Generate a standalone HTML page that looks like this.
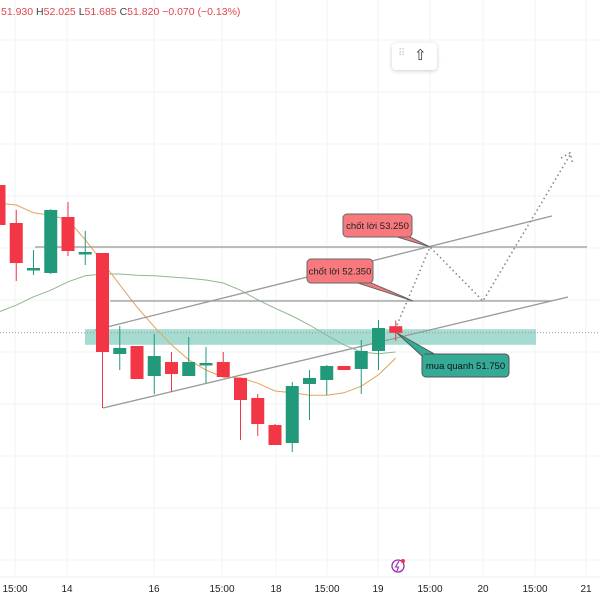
<!DOCTYPE html>
<html><head><meta charset="utf-8"><style>
body{margin:0;background:#fff;font-family:"Liberation Sans",sans-serif}
#wrap{position:relative;width:600px;height:600px;overflow:hidden}
</style></head><body>
<div id="wrap">
<svg id="svg" width="600" height="600"></svg>
<div style="position:absolute;left:1px;top:6px;font-size:10.5px;color:#e0464f;white-space:nowrap">51.930 <b style="color:#444;font-weight:normal">H</b>52.025 <b style="color:#444;font-weight:normal">L</b>51.685 <b style="color:#444;font-weight:normal">C</b>51.820 −0.070 (−0.13%)</div>
<div style="position:absolute;left:392px;top:43px;width:45px;height:27px;background:#fff;border-radius:4px;box-shadow:0 1px 4px rgba(0,0,0,0.2);font-size:15px;color:#333"><span style="position:absolute;left:6px;top:5px;color:#ccc;font-size:10px">⠿</span><span style="position:absolute;left:22px;top:3px">⇧</span></div>
</div>
<script>
const tickLabels=["15:00","14","16","15:00","18","15:00","19","15:00","20","15:00","21"];
const tickX=[15,67,154,222,276,327,378,430,483,535,586];
const opens=[54.283,53.65,52.88,52.817,53.75,53.13,53.15,51.467,51.6,51.1,51.333,51.1,51.3,51.333,51.067,50.733,50.283,49.983,50.967,51.033,51.267,51.217,51.517,51.93];
const highs=[54.4,53.87,53.2,53.88,54.0,53.52,53.15,51.933,51.6,51.8,51.5,51.75,51.583,51.5,51.067,50.8,50.3,51.0,51.2,51.283,51.267,51.7,52.033,52.025];
const lows=[53.6,52.683,52.783,52.8,53.1,52.95,50.567,51.2,51.05,50.8,50.833,51.1,50.983,51.1,50.033,50.1,49.95,49.833,50.367,50.783,51.2,50.8,51.2,51.685];
const closes=[53.617,52.983,52.9,53.867,53.183,53.167,51.5,51.567,51.05,51.433,51.133,51.333,51.317,51.083,50.7,50.3,49.95,50.933,51.067,51.267,51.2,51.517,51.9,51.82];
const maFast=[53.98,53.95,53.82,53.78,53.70,53.37,53.00,52.62,52.25,51.92,51.62,51.37,51.20,51.08,51.07,50.98,50.85,50.82,50.78,50.78,50.82,50.93,51.12,51.40];
const maSlow=[52.17,52.28,52.42,52.53,52.67,52.77,52.80,52.80,52.78,52.77,52.75,52.73,52.70,52.65,52.53,52.37,52.23,52.10,51.95,51.78,51.62,51.50,51.47,51.50];
const target1=53.25, target2=52.35, buyLevel=51.75, lastPrice=51.82;
const zoneTop=51.88, zoneBot=51.62;

const S='http://www.w3.org/2000/svg';
const svg=document.getElementById('svg');
const y=p=>301-(p-52.35)*60;
const x=i=>-1+17.25*i;
function el(t,a,parent){const e=document.createElementNS(S,t);for(const k in a)e.setAttribute(k,a[k]);(parent||svg).appendChild(e);return e;}
// grid
for(let gx of tickX){const g=el('line',{x1:gx,x2:gx,y1:0,y2:575,stroke:'#f2f3f5'});

}
for(let gy=40;gy<575;gy+=52){const g=el('line',{x1:0,x2:600,y1:gy,y2:gy,stroke:'#f2f3f5'});

}
// zone
let z=el('rect',{x:85,y:y(zoneTop),width:451,height:y(zoneBot)-y(zoneTop),fill:'#a5dbd0'});


let lp=el('line',{x1:0,x2:600,y1:y(lastPrice),y2:y(lastPrice),stroke:'#999','stroke-dasharray':'1 2'});


// MAs
function ma(arr,col,name){const p=el('polyline',{points:arr.map((v,i)=>x(i)+','+y(v)).join(' '),fill:'none',stroke:col,'stroke-width':1});

}
ma(maSlow,'#8fb88f','ma-slow');
ma(maFast,'#e3a35a','ma-fast');
// horizontal lines and trendlines
function ln(a,b,c,d,name,extra){const l=el('line',Object.assign({x1:a,y1:b,x2:c,y2:d,stroke:'#999','stroke-width':1.3},extra||{}));

}
ln(35,y(target1),587,y(target1),'target-53250-line');
ln(110,y(target2),552,y(target2),'target-52350-line');
ln(95,330,552,216,'upper-trendline');
ln(103,408,568,297,'lower-trendline');
ln(103,y(lows[6]),103,408,'trend-vertex');
// candles
opens.forEach((o,i)=>{const c=closes[i],up=c>=o,col=up?'#22997a':'#f23645',cx=x(i);
const w=el('line',{x1:cx,x2:cx,y1:y(highs[i]),y2:y(lows[i]),stroke:col,'stroke-width':1});


const t=Math.min(y(o),y(c)),h=Math.max(Math.abs(y(o)-y(c)),2.5);
const b=el('rect',{x:cx-6.5,y:t,width:13,height:h,fill:col});

});
// projected path
let pp=el('polyline',{points:`397,325 430,${y(target1)} 483,${y(target2)} 570,155`,fill:'none',stroke:'#888','stroke-width':1.6,'stroke-dasharray':'1.5 3'});


let ah=el('polyline',{points:'561,158 570,153 573,164',fill:'none',stroke:'#888','stroke-width':1.6,'stroke-dasharray':'1.5 3'});


// callouts
function callout(bx,by,bw,bh,tx,ty,fill,stroke,text,name){const g=el('g',{});


el('path',{d:`M${bx+bw-18},${by+bh-1} L${tx},${ty} L${bx+bw-4},${by+bh-1} Z`,fill:fill,stroke:stroke},g);
el('rect',{x:bx,y:by,width:bw,height:bh,rx:4,fill:fill,stroke:stroke},g);
el('path',{d:`M${bx+bw-17},${by+bh-1.5} L${bx+bw-5},${by+bh-1.5}`,stroke:fill,'stroke-width':2},g);
const t=el('text',{x:bx+bw/2,y:by+bh/2+3.5,'font-size':9.5,'text-anchor':'middle',fill:'#222','font-family':'Liberation Sans, sans-serif'},g);t.textContent=text;}
callout(343,214,69,23,430,y(target1),'#f7797e','#666','chốt lời 53.250','callout-target-53250');
callout(307,259,66,24,413,y(target2),'#f7797e','#666','chốt lời 52.350','callout-target-52350');
// buy callout (pointer from top-left)
const g=el('g',{});


el('path',{d:`M${422},${356} L397,${y(buyLevel)-4} L438,356 Z`,fill:'#35ab97',stroke:'#555'},g);
el('rect',{x:422,y:354,width:87,height:23,rx:4,fill:'#35ab97',stroke:'#555'},g);
el('path',{d:'M423,355.5 L437,355.5',stroke:'#35ab97','stroke-width':2},g);
const bt=el('text',{x:465.5,y:369,'font-size':9.5,'text-anchor':'middle',fill:'#111','font-family':'Liberation Sans, sans-serif'},g);bt.textContent='mua quanh 51.750';
// x axis
let ax=el('line',{x1:0,x2:600,y1:577,y2:577,stroke:'#eee'});


tickLabels.forEach((lab,i)=>{const t=el('text',{x:tickX[i],y:592,'font-size':10,'text-anchor':'middle',fill:'#222','font-family':'Liberation Sans, sans-serif'});


t.textContent=lab;});
// lightning icon
const li=el('g',{});


el('circle',{cx:398,cy:566,r:6,fill:'none',stroke:'#9c27b0','stroke-width':1.3},li);
el('path',{d:'M399,561 L395.5,567 L398.5,567 L397,571',fill:'none',stroke:'#9c27b0','stroke-width':1.1},li);
el('circle',{cx:403,cy:561,r:2,fill:'#f23645'},li);
</script>
</body></html>
